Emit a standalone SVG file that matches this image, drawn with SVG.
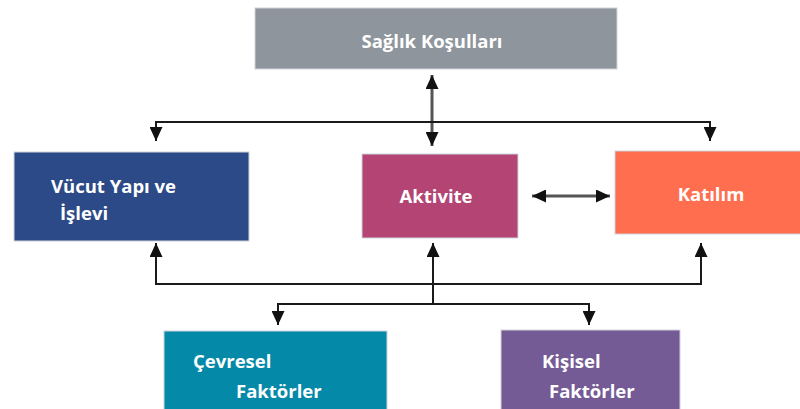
<svg xmlns="http://www.w3.org/2000/svg" width="800" height="409" viewBox="0 0 800 409">
<defs>
<marker id="ah" markerUnits="userSpaceOnUse" markerWidth="14" markerHeight="13" viewBox="0 0 14 13" refX="14" refY="6.5" orient="auto-start-reverse">
<path d="M0,0 L14,6.5 L0,13 z" fill="#111"/>
</marker>
<style>
.box{stroke:#d0d4da;stroke-width:1}
.lbl{font-family:"Open Sans","Liberation Sans",sans-serif;font-weight:700;font-size:18.5px;fill:#fff}
.c{text-anchor:middle}
.ln{fill:none;stroke:#1a1a1a;stroke-width:2}
.dbl{fill:none;stroke:#555;stroke-width:3}
</style>
</defs>
<rect width="800" height="409" fill="#fff"/>
<g id="saglik">
<rect class="box" x="255" y="8" width="362" height="61" fill="#8e959c"/>
<text class="lbl c" x="432" y="48">Sağlık Koşulları</text>
</g>
<g id="vucut">
<rect class="box" x="14" y="152" width="235" height="89" fill="#2c4a87"/>
<text class="lbl" x="51" y="193">Vücut Yapı ve</text>
<text class="lbl" x="60" y="220">İşlevi</text>
</g>
<g id="aktivite">
<rect class="box" x="362" y="154" width="156" height="84" fill="#b34474"/>
<text class="lbl c" x="436" y="203">Aktivite</text>
</g>
<g id="katilim">
<rect class="box" x="615" y="151" width="190" height="83" fill="#ff6e4f"/>
<text class="lbl c" x="711" y="201">Katılım</text>
</g>
<g id="cevresel">
<rect class="box" x="164" y="331" width="223" height="85" fill="#0589a8"/>
<text class="lbl" x="193" y="368">Çevresel</text>
<text class="lbl" x="236" y="398">Faktörler</text>
</g>
<g id="kisisel">
<rect class="box" x="501" y="330" width="179" height="86" fill="#745b95"/>
<text class="lbl" x="542" y="368">Kişisel</text>
<text class="lbl" x="549" y="398">Faktörler</text>
</g>
<g id="connectors">
<line class="dbl" x1="432" y1="75" x2="432" y2="146" marker-start="url(#ah)" marker-end="url(#ah)"/>
<path class="ln" d="M156,141 L156,122 L710,122 L710,141" stroke-width="1.5" marker-start="url(#ah)" marker-end="url(#ah)"/>
<line class="dbl" x1="532" y1="196" x2="610" y2="196" marker-start="url(#ah)" marker-end="url(#ah)"/>
<path class="ln" d="M156,243 L156,284 L701,284 L701,243" marker-start="url(#ah)" marker-end="url(#ah)"/>
<line class="ln" x1="433" y1="304" x2="433" y2="243" marker-end="url(#ah)"/>
<path class="ln" d="M278,325 L278,304 L589,304 L589,325" marker-start="url(#ah)" marker-end="url(#ah)"/>
</g>
</svg>
